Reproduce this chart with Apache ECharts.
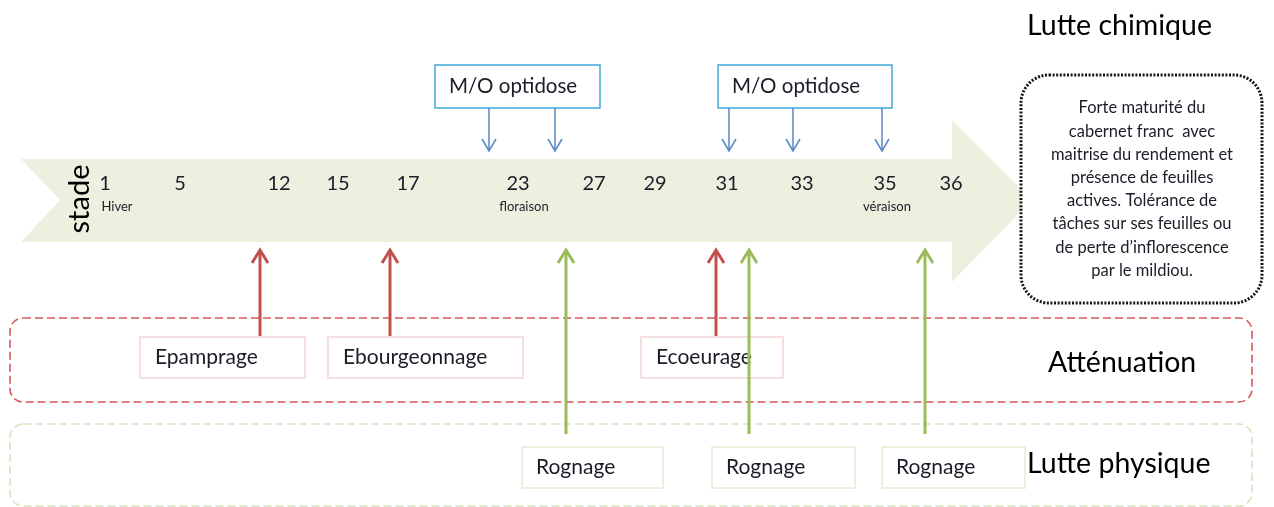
<!DOCTYPE html>
<html><head><meta charset="utf-8">
<script src="https://cdn.jsdelivr.net/npm/echarts@6/dist/echarts.min.js"></script>
<style>html,body{margin:0;padding:0;background:#fff}#c{width:1274px;height:507px}</style>
</head><body><div id="c"></div>
<script>
// ---- Data (timeline units along the x axis) ----
const stageLabels = ['1','5','12','15','17','23','27','29','31','33','35','36'];
const stagePositions = [105,180,279,338,408,518,594,655,727,802,885,951];
const stageNotes = ['Hiver','floraison','véraison'];
const stageNotePositions = [117,524,887];
const chemicalLabels = ['M/O optidose','M/O optidose'];
const chemicalSpans = [[435,600],[718,892]];
const chemicalArrowPositions = [489,555,729,793,882];
const attenuationLabels = ['Epamprage','Ebourgeonnage','Ecoeurage'];
const attenuationSpans = [[140,305],[328,523],[641,783]];
const attenuationArrowPositions = [260,390,716];
const physicalLabels = ['Rognage','Rognage','Rognage'];
const physicalSpans = [[522,663],[712,855],[882,1025]];
const physicalArrowPositions = [566,749,925];
const sectionTitles = ['Lutte chimique','Atténuation','Lutte physique'];
const objectiveLines = ['Forte maturité du','cabernet franc  avec','maitrise du rendement et','présence de feuilles','actives. Tolérance de','tâches sur ses feuilles ou','de perte d\u2019inflorescence','par le mildiou.'];
const axisTitle = 'stade';

// ---- Layout ----
const L = {
  bodyTop:159, bodyBottom:242, headTop:120, headBottom:282, mid:200, start:21, notch:60, headBase:952, tip:1032,
  stageY:184, noteY:207,
  chemTop:65, chemBottom:108, chemTip:151,
  attTop:337, attBottom:378, physTop:447, physBottom:488, upTip:250, physTail:434,
  titleX:[1027,1048,1027], titleY:[26,363,464],
  objBox:[1021,75,241,228], objX:1142, objY:108, objStep:23.2
};
const FONT = 'Lato, "Open Sans", sans-serif';
const C = {body:'#ebf1de', blue:'#5a87c5', cyan:'#3fa9dc', red:'#c0504d', green:'#9bbb59',
  pinkBorder:'#f2d6d5', greenBorder:'#e3ebd1', redDash:'#d65a5c', greenDash:'#d7e4bd', text:'#1c1c28'};

function txt(x,y,text,size,fill,align,extra){
  return Object.assign({type:'text',style:{x:x,y:y,text:text,font:size+'px '+FONT,fill:fill,
    align:align||'left',textAlign:align||'left',verticalAlign:'middle',textVerticalAlign:'middle'}}, extra||{});
}
function upArrow(api,x,tail,tip,color){
  const a=api.coord([x,tail]), b=api.coord([x,tip]);
  return {type:'group',children:[
    {type:'line',shape:{x1:a[0],y1:a[1],x2:b[0],y2:b[1]+1},style:{stroke:color,lineWidth:3}},
    {type:'polyline',shape:{points:[[b[0]-8,b[1]+13],[b[0],b[1]],[b[0]+8,b[1]+13]]},style:{stroke:color,lineWidth:3,fill:null}}
  ]};
}

const series = [];
// section frames
series.push({type:'custom',coordinateSystem:'cartesian2d',data:[[10,318],[10,424]],z:1,
  renderItem:(p,api)=>{
    const i=p.dataIndex;
    const a=api.coord([10, i?424:318]), b=api.coord([1252, i?506:402]);
    return {type:'rect',shape:{x:a[0],y:a[1],width:b[0]-a[0],height:b[1]-a[1],r:13},
      style:{fill:null,stroke:i?C.greenDash:C.redDash,lineWidth:1.6,lineDash:[8,4]}};
  }});
// timeline arrow body
series.push({type:'custom',coordinateSystem:'cartesian2d',data:[[L.start,L.mid]],z:2,
  renderItem:(p,api)=>{
    const pts=[[L.start,L.bodyTop],[L.headBase,L.bodyTop],[L.headBase,L.headTop],[L.tip,L.mid],[L.headBase,L.headBottom],
      [L.headBase,L.bodyBottom],[L.start,L.bodyBottom],[L.notch,L.mid]].map(q=>api.coord(q));
    return {type:'polygon',shape:{points:pts},style:{fill:C.body}};
  }});
// objective box
series.push({type:'custom',coordinateSystem:'cartesian2d',data:[[L.objX,L.objY]],z:3,
  renderItem:(p,api)=>{
    const [x,y,w,h]=L.objBox; const a=api.coord([x,y]);
    const ch=[{type:'rect',shape:{x:a[0],y:a[1],width:w,height:h,r:28},style:{fill:'#fff',stroke:'#151515',lineWidth:3,lineDash:[2,1.6]}}];
    objectiveLines.forEach((t,i)=>{const c=api.coord([L.objX,L.objY+i*L.objStep]); ch.push(txt(c[0],c[1],t,16.5,C.text,'center'));});
    return {type:'group',children:ch};
  }});
// chemical boxes
series.push({type:'custom',coordinateSystem:'cartesian2d',data:chemicalSpans.map(s=>[s[0],L.chemTop]),z:4,
  renderItem:(p,api)=>{
    const s=chemicalSpans[p.dataIndex]; const a=api.coord([s[0],L.chemTop]), b=api.coord([s[1],L.chemBottom]);
    return {type:'group',children:[
      {type:'rect',shape:{x:a[0],y:a[1],width:b[0]-a[0],height:b[1]-a[1]},style:{fill:'#fff',stroke:C.cyan,lineWidth:1.5}},
      txt(a[0]+14,(a[1]+b[1])/2,chemicalLabels[p.dataIndex],20.5,C.text,'left')]};
  }});
// chemical arrows
series.push({type:'custom',coordinateSystem:'cartesian2d',data:chemicalArrowPositions.map(x=>[x,L.chemTip]),z:4,
  renderItem:(p,api)=>{
    const x=chemicalArrowPositions[p.dataIndex]; const a=api.coord([x,L.chemBottom]), b=api.coord([x,L.chemTip]);
    return {type:'group',children:[
      {type:'line',shape:{x1:a[0],y1:a[1],x2:b[0],y2:b[1]},style:{stroke:C.blue,lineWidth:1.5}},
      {type:'polyline',shape:{points:[[b[0]-7,b[1]-12],[b[0],b[1]],[b[0]+7,b[1]-12]]},style:{stroke:C.blue,lineWidth:1.5,fill:null}}]};
  }});
// attenuation boxes
series.push({type:'custom',coordinateSystem:'cartesian2d',data:attenuationSpans.map(s=>[s[0],L.attTop]),z:4,
  renderItem:(p,api)=>{
    const s=attenuationSpans[p.dataIndex]; const a=api.coord([s[0],L.attTop]), b=api.coord([s[1],L.attBottom]);
    return {type:'group',children:[
      {type:'rect',shape:{x:a[0],y:a[1],width:b[0]-a[0],height:b[1]-a[1]},style:{fill:'#fff',stroke:C.pinkBorder,lineWidth:1.5}},
      txt(a[0]+15,(a[1]+b[1])/2,attenuationLabels[p.dataIndex],21,C.text,'left')]};
  }});
// physical boxes
series.push({type:'custom',coordinateSystem:'cartesian2d',data:physicalSpans.map(s=>[s[0],L.physTop]),z:4,
  renderItem:(p,api)=>{
    const s=physicalSpans[p.dataIndex]; const a=api.coord([s[0],L.physTop]), b=api.coord([s[1],L.physBottom]);
    return {type:'group',children:[
      {type:'rect',shape:{x:a[0],y:a[1],width:b[0]-a[0],height:b[1]-a[1]},style:{fill:'#fff',stroke:C.greenBorder,lineWidth:1.5}},
      txt(a[0]+14,(a[1]+b[1])/2,physicalLabels[p.dataIndex],21,C.text,'left')]};
  }});
// red arrows
series.push({type:'custom',coordinateSystem:'cartesian2d',data:attenuationArrowPositions.map(x=>[x,L.upTip]),z:5,
  renderItem:(p,api)=>upArrow(api,attenuationArrowPositions[p.dataIndex],L.attTop-1,L.upTip,C.red)});
// green arrows
series.push({type:'custom',coordinateSystem:'cartesian2d',data:physicalArrowPositions.map(x=>[x,L.upTip]),z:6,
  renderItem:(p,api)=>upArrow(api,physicalArrowPositions[p.dataIndex],L.physTail,L.upTip,C.green)});
// stage labels
series.push({type:'custom',coordinateSystem:'cartesian2d',data:stagePositions.map(x=>[x,L.stageY]),z:7,
  renderItem:(p,api)=>{const c=api.coord([stagePositions[p.dataIndex],L.stageY]); return txt(c[0],c[1],stageLabels[p.dataIndex],20,C.text,'center');}});
// stage notes
series.push({type:'custom',coordinateSystem:'cartesian2d',data:stageNotePositions.map(x=>[x,L.noteY]),z:7,
  renderItem:(p,api)=>{const c=api.coord([stageNotePositions[p.dataIndex],L.noteY]); return txt(c[0],c[1],stageNotes[p.dataIndex],13,C.text,'center');}});
// axis title "stade"
series.push({type:'custom',coordinateSystem:'cartesian2d',data:[[80,199]],z:7,
  renderItem:(p,api)=>{const c=api.coord([80,199]);
    return {type:'text',x:c[0],y:c[1],rotation:Math.PI/2,style:{x:0,y:0,text:axisTitle,font:'29px '+FONT,fill:'#000',align:'center',textAlign:'center',verticalAlign:'middle',textVerticalAlign:'middle'}};}});
// section titles
series.push({type:'custom',coordinateSystem:'cartesian2d',data:sectionTitles.map((t,i)=>[L.titleX[i],L.titleY[i]]),z:7,
  renderItem:(p,api)=>{const i=p.dataIndex; const c=api.coord([L.titleX[i],L.titleY[i]]); return txt(c[0],c[1],sectionTitles[i],28.5,'#000','left');}});

series.forEach(s=>{s.clip=false;s.animation=false;s.silent=true;});

const chart = echarts.init(document.getElementById('c'), null, {renderer:'canvas'});
chart.setOption({
  backgroundColor:'#fff', animation:false,
  grid:{left:0,right:0,top:0,bottom:0},
  xAxis:{type:'value',min:0,max:1274,show:false},
  yAxis:{type:'value',min:0,max:507,inverse:true,show:false},
  series:series
});
</script></body></html>
